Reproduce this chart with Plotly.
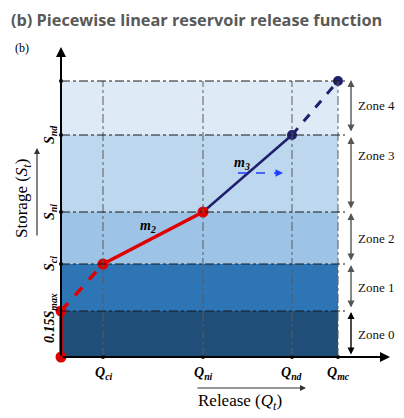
import plotly.graph_objects as go

# ---- data (arbitrary units) ----
q_ticks = [42, 142, 231, 277]
q_labels = ["Q<sub>ci</sub>", "Q<sub>ni</sub>", "Q<sub>nd</sub>", "Q<sub>mc</sub>"]
s_levels = [0, 46, 93, 145, 222, 276]
s_labels = ["", "0.15S<sub>max</sub>", "S<sub>ci</sub>", "S<sub>ni</sub>", "S<sub>nd</sub>", ""]
zone_names = ["Zone 0", "Zone 1", "Zone 2", "Zone 3", "Zone 4"]
zone_colors = ["#1f4e79", "#2e75b6", "#9dc3e6", "#bdd7ee", "#deebf7"]
zone_label_y = [23, 70, 119, 202, 252]

curve_q = [0, 0, 42, 142, 231, 277]
curve_s = [0, 46, 93, 145, 222, 276]

RED = "#e00000"
NAVY = "#1f1f6e"
SERIF = "Liberation Serif"

fig = go.Figure()
shapes = []
ann = []

qmax = q_ticks[-1]
smax = s_levels[-1]

# zone rectangles
for i in range(5):
    shapes.append(dict(type="rect", x0=0, x1=qmax, y0=s_levels[i], y1=s_levels[i + 1],
                       fillcolor=zone_colors[i], line_width=0, layer="below"))

# vertical dash-dot lines
for q in q_ticks:
    shapes.append(dict(type="line", x0=q, x1=q, y0=0, y1=smax,
                       line=dict(color="#5a5a5a", width=1, dash="dashdot")))
# horizontal dash-dot lines
for s in s_levels[1:]:
    shapes.append(dict(type="line", x0=0, x1=qmax + 7, y0=s, y1=s,
                       line=dict(color="#1a1a1a", width=1.2, dash="dashdot")))

# release curve segments
def seg(i0, i1, color, dash, width):
    fig.add_trace(go.Scatter(x=curve_q[i0:i1 + 1], y=curve_s[i0:i1 + 1], mode="lines",
                             line=dict(color=color, dash=dash, width=width),
                             hoverinfo="skip", showlegend=False))

seg(0, 1, RED, "solid", 3.5)
seg(1, 2, RED, "dash", 3.5)
seg(2, 3, RED, "solid", 3.5)
seg(3, 4, NAVY, "solid", 2.5)
seg(4, 5, NAVY, "dash", 3)

# tick dots on axes
fig.add_trace(go.Scatter(x=q_ticks, y=[0] * len(q_ticks), mode="markers",
                         marker=dict(color="black", size=4),
                         hoverinfo="skip", showlegend=False))
fig.add_trace(go.Scatter(x=[0] * 4, y=s_levels[2:], mode="markers",
                         marker=dict(color="black", size=4),
                         hoverinfo="skip", showlegend=False))

# curve points
fig.add_trace(go.Scatter(x=curve_q[:4], y=curve_s[:4], mode="markers",
                         marker=dict(color=RED, size=11),
                         hoverinfo="skip", showlegend=False))
fig.add_trace(go.Scatter(x=curve_q[4:], y=curve_s[4:], mode="markers",
                         marker=dict(color=NAVY, size=10),
                         hoverinfo="skip", showlegend=False))

# blue dashed arrow
fig.add_trace(go.Scatter(x=[177, 216], y=[184, 184], mode="lines",
                         line=dict(color="#1f3fff", width=1.5, dash="dash"),
                         hoverinfo="skip", showlegend=False))
ann.append(dict(x=222, y=184, ax=213, ay=184, xref="x", yref="y", axref="x", ayref="y",
                text="", showarrow=True, arrowhead=2, arrowsize=1, arrowwidth=1.5,
                arrowcolor="#1f3fff"))

# main axes arrows
ann.append(dict(x=0, y=310, ax=0, ay=0, xref="x", yref="y", axref="x", ayref="y",
                text="", showarrow=True, arrowhead=2, arrowsize=1, arrowwidth=2,
                arrowcolor="black"))
ann.append(dict(x=329, y=0, ax=0, ay=0, xref="x", yref="y", axref="x", ayref="y",
                text="", showarrow=True, arrowhead=2, arrowsize=1, arrowwidth=2,
                arrowcolor="black"))

# zone double arrows + labels
zone_arrow_ranges = [(1, 45), (48, 92), (95, 144), (147, 220), (224, 277)]
for i, (a, b) in enumerate(zone_arrow_ranges):
    col = "black" if i == 0 else "#555555"
    ann.append(dict(x=290, y=b, ax=290, ay=a, xref="x", yref="y", axref="x", ayref="y",
                    text="", showarrow=True, arrowhead=2, startarrowhead=2,
                    arrowside="end+start", arrowsize=1, startarrowsize=1,
                    arrowwidth=1.4, arrowcolor=col))
    ann.append(dict(x=295, y=zone_label_y[i], xref="x", yref="y", text=zone_names[i],
                    showarrow=False, xanchor="left", yanchor="middle",
                    font=dict(family=SERIF, size=13, color="#111111")))

# y tick labels (rotated)
for s, lab in zip(s_levels, s_labels):
    if not lab:
        continue
    yy = s - 7 if lab.startswith("0.15") else s
    ann.append(dict(x=-11, y=yy, xref="x", yref="y", text="<b><i>" + lab + "</i></b>",
                    showarrow=False, textangle=-90, xanchor="center", yanchor="middle",
                    font=dict(family=SERIF, size=14, color="black")))

# x tick labels
for q, lab in zip(q_ticks, q_labels):
    ann.append(dict(x=q, y=-16, xref="x", yref="y", text="<b><i>" + lab + "</i></b>",
                    showarrow=False, xanchor="center", yanchor="middle",
                    font=dict(family=SERIF, size=14, color="black")))

# slope labels
ann.append(dict(x=87, y=131, xref="x", yref="y", text="<b><i>m<sub>2</sub></i></b>",
                showarrow=False, font=dict(family=SERIF, size=14, color="black")))
ann.append(dict(x=181, y=194, xref="x", yref="y", text="<b><i>m<sub>3</sub></i></b>",
                showarrow=False, font=dict(family=SERIF, size=14, color="black")))

# axis titles
ann.append(dict(x=-38, y=158, xref="x", yref="y", text="Storage (<i>S<sub>t</sub></i>)",
                showarrow=False, textangle=-90, font=dict(family=SERIF, size=17, color="black")))
ann.append(dict(x=-24, y=209, ax=-24, ay=120, xref="x", yref="y", axref="x", ayref="y",
                text="", showarrow=True, arrowhead=2, arrowsize=1, arrowwidth=1.2,
                arrowcolor="#333333"))
ann.append(dict(x=179, y=-45, xref="x", yref="y", text="Release (<i>Q<sub>t</sub></i>)",
                showarrow=False, font=dict(family=SERIF, size=17, color="black")))
ann.append(dict(x=245, y=-31, ax=135, ay=-31, xref="x", yref="y", axref="x", ayref="y",
                text="", showarrow=True, arrowhead=2, arrowsize=1, arrowwidth=1.2,
                arrowcolor="#333333"))

# small (b)
ann.append(dict(x=-39, y=309, xref="x", yref="y", text="(b)", showarrow=False,
                font=dict(family=SERIF, size=12, color="black")))

# title (top-anchored so its box stays inside the figure)
ann.append(dict(x=-51, y=349, xref="x", yref="y", xanchor="left", yanchor="top",
                borderpad=0,
                text="<b>(b) Piecewise linear reservoir release function</b>",
                showarrow=False, font=dict(family="Open Sans", size=16.3, color="#595959")))

# The page body has an 8px margin, so the figure is drawn 8px in from the window corner.
fig.update_layout(
    width=396, height=410,
    margin=dict(l=0, r=0, t=0, b=0),
    paper_bgcolor="white", plot_bgcolor="white",
    xaxis=dict(range=[-53, 343], visible=False, fixedrange=True),
    yaxis=dict(range=[-61, 349], visible=False, fixedrange=True),
    shapes=shapes, annotations=ann,
    showlegend=False,
)

fig.write_html("out.html")
